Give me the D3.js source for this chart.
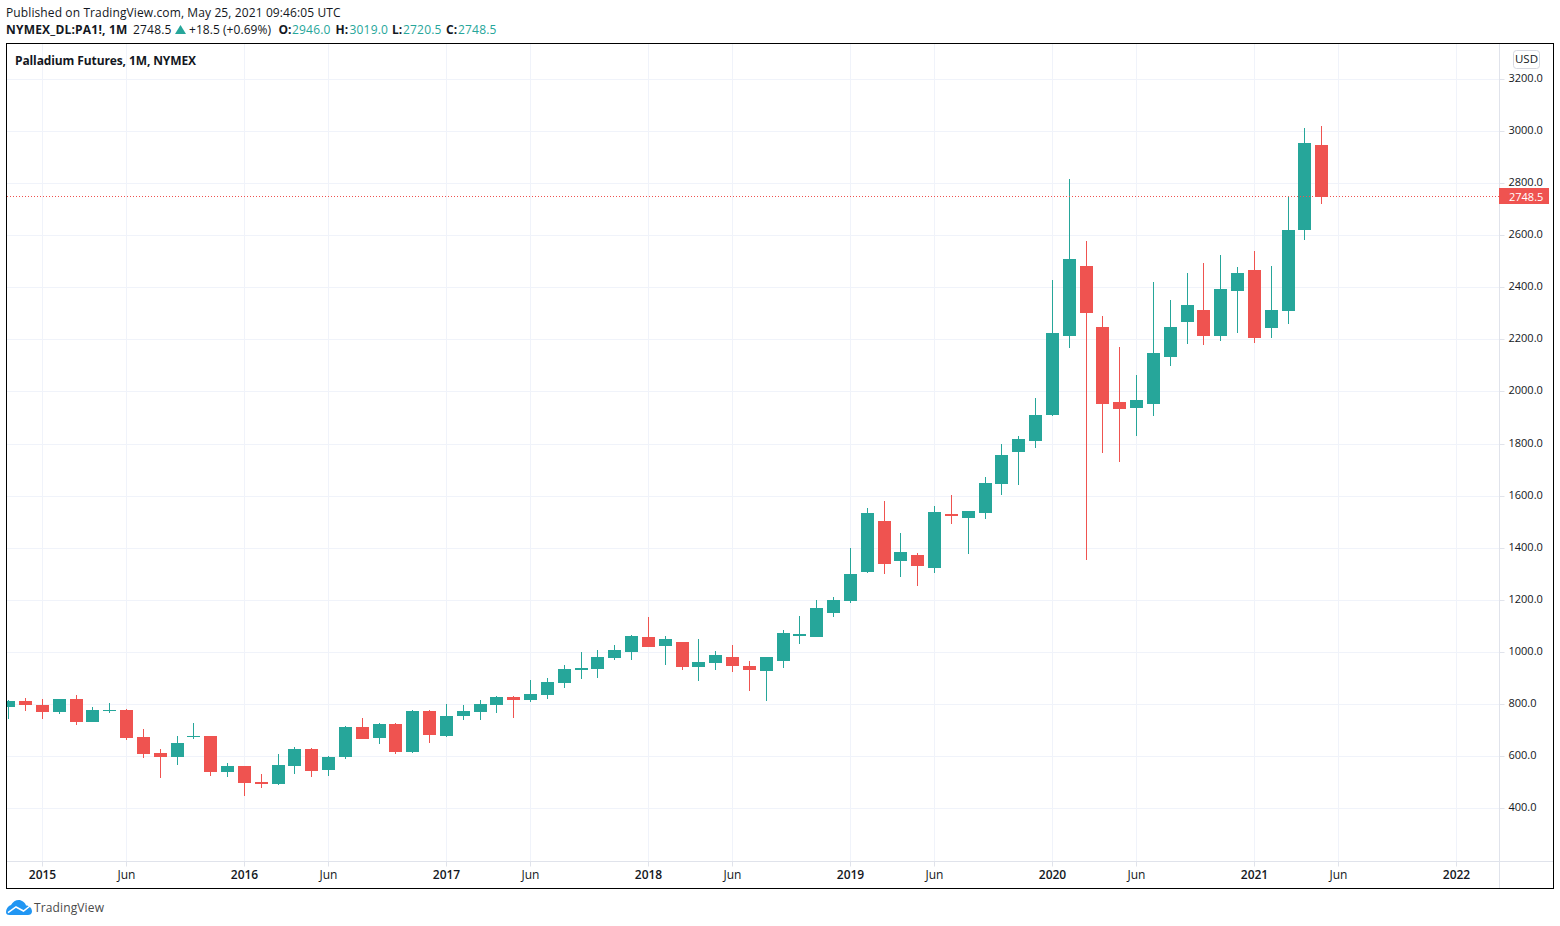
<!DOCTYPE html>
<html><head><meta charset="utf-8">
<script src="https://cdn.jsdelivr.net/npm/d3@7"></script>
<style>html,body{margin:0;padding:0;background:#fff;overflow:hidden}svg{display:block}text{font-family:"Open Sans",sans-serif;font-size:12px}</style>
</head><body><div id="chart"></div>
<script>
const firstBar = -2; // first bar is Nov 2014; bar 0 is Jan 2015
const open  = [789,811.5,796,769,819,731,773,777,673,612,596,673,677,539,562,500,493,562,627,546,596,712,669,723,616,773,677,754,769,796,827,815,835,881,931,934,977,1000,1057,1023,1038,942,957,981,946,927,965,1061,1058,1150,1196,1307,1503,1350,1372,1323,1530,1514,1534,1645,1768,1810,1910,2213,2482,2248,1960,1937,1952,2133,2267,2313,2213,2386,2467,2244,2310,2621,2946];
const high  = [815.5,823,819,819,835,788.5,804,781,704,627,677,727,677,573,562,531,608,635,631,600,715,746,727,727,777,777,800,796,815,831,831,892,900,950,1000,1007,1027,1065,1134,1061,1038,1050,1004,1027,965,981,1084,1138,1200,1211,1399,1553,1580,1457,1380,1561,1603,1541,1672,1799,1829,1975,2428,2816,2578,2290,2171,2064,2421,2352,2455,2494,2525,2478,2540,2482,2748,3012,3019];
const low   = [742.5,773,742,762,719,731,765,662,593,516,566,666,523,520,447,477,489,531,520,523,589,666,646,608,612,650,673,739,739,765,746,808,819,861,896,900,969,969,1019,950,931,888,931,923,850,812,938,1031,1058,1134,1188,1303,1300,1288,1253,1303,1491,1376,1510,1603,1641,1783,1906,2167,1353,1764,1729,1829,1906,2098,2183,2179,2194,2225,2187,2206,2259,2582,2720.5];
const close = [811.5,796,769,819,731,777,777,669,608,596,650,677,539,562,497,493,566,627,543,596,712,666,723,616,773,681,754,773,800,827,815,838,885,934,938,981,1007,1061,1019,1050,942,961,988,946,931,981,1073,1069,1169,1200,1300,1534,1338,1384,1330,1538,1522,1541,1649,1756,1818,1910,2225,2509,2302,1952,1933,1968,2148,2248,2332,2213,2394,2455,2206,2313,2621,2955,2748.5];
const priceTicks = [400,600,800,1000,1200,1400,1600,1800,2000,2200,2400,2600,2800,3000,3200];
const timeTickBars = [0,5,12,17,24,29,36,41,48,53,60,65,72,77,84];
const timeTickLabels = ["2015","Jun","2016","Jun","2017","Jun","2018","Jun","2019","Jun","2020","Jun","2021","Jun","2022"];
const lastPrice = 2748.5;

const W=1560,H=926, L=6, T=43, R=1553, B=889, axisX=1499, axisY=861;
const teal="#26a69a", red="#ef5350", grid="#f0f3fa", axisC="#e0e3eb", ink="#131722";
const x=d3.scaleLinear().domain([0,1]).range([42.35,42.35+16.8333]);
const y=d3.scaleLinear().domain([400,3200]).range([808,79]);
const crispY=v=>Math.round(v)+.5, crispX=v=>Math.floor(v)+.5;

const svg=d3.select("#chart").append("svg").attr("width",W).attr("height",H);
svg.append("rect").attr("width",W).attr("height",H).attr("fill","#fff");

// header
const hdr=svg.append("g");
hdr.append("text").attr("x",6).attr("y",17).attr("fill",ink).style("letter-spacing","0.11px").text("Published on TradingView.com, May 25, 2021 09:46:05 UTC");
const line2=[["NYMEX_DL:PA1!, 1M",6,ink,700,.2],["2748.5",133,ink,400,.2],["+18.5 (+0.69%)",189,ink,400,.05],
 ["O:",278.5,ink,700,0],["2946.0",292,teal,400,.2],["H:",335.5,ink,700,0],["3019.0",349.5,teal,400,.2],
 ["L:",392,ink,700,0],["2720.5",403,teal,400,.2],["C:",446,ink,700,0],["2748.5",458,teal,400,.2]];
hdr.selectAll("text.l2").data(line2).join("text").attr("class","l2").attr("x",d=>d[1]).attr("y",34)
  .attr("fill",d=>d[2]).style("font-weight",d=>d[3]).style("letter-spacing",d=>d[4]+"px").text(d=>d[0]);
hdr.append("path").attr("d","M175 34L180.5 25L186 34Z").attr("fill",teal);

// clip
svg.append("clipPath").attr("id","plot").append("rect").attr("x",L+1).attr("y",T+1).attr("width",axisX-L-1).attr("height",axisY-T-1);

// grid
const gridG=svg.append("g");
gridG.selectAll("line.h").data(priceTicks).join("line").attr("class","h")
  .attr("x1",L).attr("x2",axisX).attr("y1",d=>crispY(y(d))).attr("y2",d=>crispY(y(d))).attr("stroke",grid);
gridG.selectAll("line.v").data(timeTickBars).join("line").attr("class","v")
  .attr("y1",T).attr("y2",axisY).attr("x1",d=>crispX(x(d))).attr("x2",d=>crispX(x(d))).attr("stroke",grid);

// candles
const bars=open.map((o,i)=>({i:i+firstBar,o,h:high[i],l:low[i],c:close[i]}));
const col=d=>d.c>=d.o?teal:red;
const g=svg.append("g").attr("clip-path","url(#plot)");
g.selectAll("line.w").data(bars).join("line").attr("class","w")
  .attr("x1",d=>crispX(x(d.i))).attr("x2",d=>crispX(x(d.i)))
  .attr("y1",d=>Math.round(y(d.h))).attr("y2",d=>Math.round(y(d.l))).attr("stroke",col).attr("stroke-width",1);
g.selectAll("rect.b").data(bars).join("rect").attr("class","b")
  .attr("x",d=>Math.round(x(d.i)-6.5)).attr("width",13)
  .attr("y",d=>Math.round(y(Math.max(d.o,d.c))))
  .attr("height",d=>Math.max(1,Math.round(y(Math.min(d.o,d.c)))-Math.round(y(Math.max(d.o,d.c)))))
  .attr("fill",col);

// last price line
svg.append("line").attr("x1",L+1).attr("x2",axisX).attr("y1",Math.floor(y(lastPrice))+.5).attr("y2",Math.floor(y(lastPrice))+.5)
  .attr("stroke",red).attr("stroke-width",1).attr("stroke-dasharray","1 2");

// axes
const yAxis=d3.axisRight(y).tickValues(priceTicks).tickFormat(d3.format(".1f")).tickSize(5).tickPadding(4);
const ya=svg.append("g").attr("transform",`translate(${axisX+.5},0)`).call(yAxis);
const xAxis=d3.axisBottom(x).tickValues(timeTickBars).tickFormat((d,i)=>timeTickLabels[i]).tickSize(5).tickPadding(4);
const xa=svg.append("g").attr("transform",`translate(0,${axisY+.5})`).call(xAxis);
[ya,xa].forEach(a=>{a.select(".domain").remove();a.selectAll(".tick line").attr("stroke",axisC);
  a.selectAll("text").attr("fill",ink).style("font-family",'"Open Sans",sans-serif').style("font-size","12px");});
ya.selectAll("text").style("font-size","11px").attr("dy","2.7px");
xa.selectAll(".tick text").style("font-weight",(d,i)=>timeTickLabels[i]==="Jun"?400:600);
xa.selectAll(".tick").attr("transform",d=>`translate(${crispX(x(d))},0)`);
ya.selectAll(".tick").attr("transform",d=>`translate(0,${crispY(y(d))})`);
svg.append("line").attr("x1",axisX+.5).attr("x2",axisX+.5).attr("y1",T).attr("y2",B).attr("stroke",axisC);
svg.append("line").attr("x1",L).attr("x2",R).attr("y1",axisY+.5).attr("y2",axisY+.5).attr("stroke",axisC);

// price label
svg.append("rect").attr("x",axisX).attr("y",188).attr("width",50).attr("height",16).attr("fill",red);
svg.append("text").attr("x",1509).attr("y",200.5).attr("fill","#fff").style("font-size","11px").text(d3.format(".1f")(lastPrice));

// USD badge
svg.append("rect").attr("x",1513.5).attr("y",50.5).attr("width",26).attr("height",18).attr("rx",3).attr("fill","#fff").attr("stroke","#d6d8e0");
svg.append("text").attr("x",1526.5).attr("y",63).attr("text-anchor","middle").attr("fill",ink).style("font-size","11.5px").text("USD");

// title
svg.append("text").attr("x",15).attr("y",65).attr("fill",ink).style("font-weight",700).style("letter-spacing","-0.11px").text("Palladium Futures, 1M, NYMEX");

// frame
svg.append("rect").attr("x",L+.5).attr("y",T+.5).attr("width",R-L).attr("height",B-T-1).attr("fill","none").attr("stroke","#000");

// logo
const logo=svg.append("g");
logo.append("path").attr("d","M6 912C6 909 8 906 11 905C13 901 18 899 21 900.5C24 901.5 25.5 903.5 26 905.5C29 905.5 32 908 32 911.5C32 914 30 915 28 915L9.5 915C7 915 6 914 6 912Z").attr("fill","#2196f3");
logo.append("path").attr("d","M8 912.7L16 907L23.5 911L30 906").attr("fill","none").attr("stroke","#fff").attr("stroke-width",1.5);
svg.append("text").attr("x",34).attr("y",912).attr("fill","#4a4a4a").style("letter-spacing","0.13px").text("TradingView");
</script></body></html>
